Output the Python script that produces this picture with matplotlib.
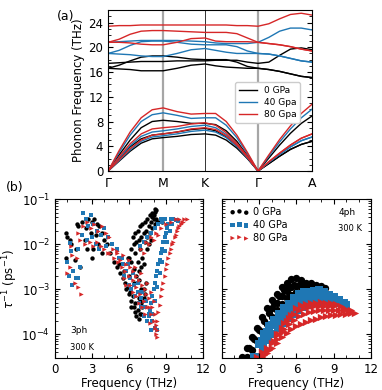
import numpy as np
import matplotlib
matplotlib.use("Agg")
import matplotlib.pyplot as plt
from matplotlib.ticker import MultipleLocator, LogLocator, NullFormatter

# ---------------- (a) phonon dispersion ----------------
kticks = [0.0, 0.27, 0.475, 0.735, 1.0]
klabels = ["Γ", "M", "K", "Γ", "A"]
# sampled path positions (Γ-M, M-K, K-Γ, Γ-A)
kpath = [0.0, 0.054, 0.108, 0.162, 0.216, 0.27,
         0.338, 0.407, 0.475,
         0.527, 0.579, 0.631, 0.683, 0.735,
         0.788, 0.841, 0.894, 0.947, 1.0]

bands_0 = [
    [0, 2.6, 5.0, 7.0, 8.0, 8.2, 8.0, 7.7, 7.7, 7.5, 6.5, 4.8, 2.5, 0, 2.1, 4.2, 6.1, 7.7, 8.9],
    [0, 2.0, 3.9, 5.2, 5.8, 6.0, 6.3, 6.7, 6.9, 6.5, 5.5, 4.0, 2.1, 0, 1.2, 2.4, 3.5, 4.3, 4.8],
    [0, 1.6, 3.2, 4.5, 5.2, 5.4, 5.6, 5.9, 6.0, 5.8, 5.0, 3.7, 2.0, 0, 1.2, 2.4, 3.5, 4.3, 4.8],
    [17.4, 17.5, 17.6, 17.7, 17.7, 17.7, 17.8, 17.8, 17.8, 17.9, 17.9, 17.9, 17.6, 17.4, 17.6, 18.7, 19.7, 19.9, 19.6],
    [16.6, 17.1, 17.8, 18.4, 18.6, 18.6, 18.4, 18.1, 18.0, 18.0, 18.0, 17.6, 16.9, 16.6, 16.4, 16.1, 15.7, 15.3, 15.1],
    [16.6, 16.5, 16.4, 16.2, 16.2, 16.2, 16.6, 17.1, 17.3, 17.0, 16.8, 16.7, 16.6, 16.6, 16.4, 16.1, 15.7, 15.3, 15.1],
]
bands_40 = [
    [0, 3.0, 5.8, 8.0, 9.1, 9.4, 9.0, 8.5, 8.6, 8.6, 7.4, 5.4, 2.8, 0, 2.4, 4.7, 6.8, 8.6, 10.0],
    [0, 2.1, 4.1, 5.6, 6.3, 6.5, 6.8, 7.2, 7.4, 7.0, 5.9, 4.3, 2.3, 0, 1.4, 2.7, 3.9, 4.9, 5.5],
    [0, 1.7, 3.4, 4.8, 5.5, 5.7, 6.0, 6.4, 6.6, 6.3, 5.4, 4.0, 2.1, 0, 1.4, 2.7, 3.9, 4.9, 5.5],
    [20.8, 20.9, 21.0, 21.1, 21.1, 21.1, 21.1, 21.0, 20.9, 20.7, 20.6, 20.6, 20.6, 20.8, 21.6, 22.6, 23.1, 23.1, 22.8],
    [19.0, 19.5, 20.3, 20.9, 21.0, 21.0, 20.8, 20.5, 20.4, 20.4, 20.4, 20.1, 19.4, 19.0, 18.9, 18.6, 18.2, 17.8, 17.6],
    [19.0, 18.9, 18.8, 18.6, 18.5, 18.5, 19.0, 19.6, 19.8, 19.5, 19.2, 19.0, 19.0, 19.0, 18.9, 18.6, 18.2, 17.8, 17.6],
]
bands_80 = [
    [0, 3.3, 6.3, 8.6, 9.9, 10.2, 9.6, 9.2, 9.3, 9.3, 8.0, 5.8, 3.0, 0, 2.6, 5.1, 7.3, 9.3, 10.8],
    [0, 2.3, 4.4, 6.0, 6.8, 7.0, 7.2, 7.6, 7.8, 7.4, 6.2, 4.5, 2.4, 0, 1.5, 2.9, 4.2, 5.3, 6.0],
    [0, 1.8, 3.6, 5.0, 5.8, 6.0, 6.3, 6.8, 7.0, 6.7, 5.7, 4.2, 2.2, 0, 1.5, 2.9, 4.2, 5.3, 6.0],
    [23.4, 23.5, 23.5, 23.6, 23.6, 23.6, 23.6, 23.6, 23.6, 23.6, 23.6, 23.5, 23.5, 23.4, 23.8, 24.6, 25.3, 25.5, 25.2],
    [20.8, 21.3, 22.1, 22.6, 22.7, 22.7, 22.6, 22.5, 22.4, 22.4, 22.4, 22.2, 21.5, 20.8, 20.6, 20.4, 20.1, 19.7, 19.4],
    [20.8, 20.8, 20.7, 20.5, 20.4, 20.4, 20.8, 21.4, 21.5, 21.0, 20.9, 20.9, 20.9, 20.8, 20.6, 20.4, 20.1, 19.7, 19.4],
]

# ---------------- (b) scattering rates (freq THz, log10 rate ps^-1) ----------------
ph3_0 = [(0.9, -1.75), (1.0, -1.85), (1.2, -1.9), (1.3, -2.0), (0.9, -2.3), (1.6, -2.35), (1.9, -1.6),
         (2.2, -1.5), (2.5, -1.65), (2.7, -1.45), (3.0, -1.5), (3.2, -1.45), (3.4, -1.55), (3.6, -1.6),
         (2.4, -1.9), (2.9, -1.75), (3.3, -1.8), (3.8, -1.75), (4.0, -1.9), (2.6, -2.1), (3.1, -2.1),
         (3.5, -2.0), (4.2, -2.0), (1.8, -1.55), (2.0, -2.5), (1.7, -2.1), (3.0, -2.3), (3.8, -2.2),
         (4.5, -2.2), (4.8, -2.4), (5.0, -2.5), (5.3, -2.65), (5.5, -2.75), (5.7, -2.85), (5.9, -2.95),
         (6.1, -3.05), (6.3, -3.15), (6.5, -3.3), (6.7, -3.45), (6.9, -3.55), (6.6, -3.6), (6.4, -3.4),
         (6.2, -3.25), (6.0, -3.1), (5.8, -3.0), (7.1, -3.4), (7.2, -3.2), (7.0, -3.0), (6.8, -2.8),
         (7.3, -3.1), (5.6, -2.6), (6.0, -2.7), (6.4, -2.85), (6.8, -3.2), (7.0, -3.3), (5.2, -2.45),
         (6.2, -3.4), (6.5, -3.5), (6.8, -3.65), (7.0, -3.55), (6.9, -3.25), (7.2, -3.0), (7.4, -2.85),
         (6.0, -2.3), (6.2, -2.4), (6.4, -2.55), (6.6, -2.7), (6.8, -2.6), (7.0, -2.5), (7.2, -2.45),
         (6.2, -2.1), (6.4, -2.0), (6.6, -1.95), (6.8, -1.9), (7.0, -1.85), (7.2, -1.75), (7.4, -1.7),
         (7.6, -1.6), (7.8, -1.5), (7.9, -1.4), (8.0, -1.35), (8.1, -1.28), (8.2, -1.25), (7.5, -1.85),
         (7.7, -1.75), (7.9, -1.65), (8.1, -1.55), (8.3, -1.5), (8.5, -1.48), (8.7, -1.5), (6.5, -2.2),
         (6.9, -2.1), (7.3, -1.95), (6.7, -2.4), (7.1, -2.3), (7.5, -2.1), (8.0, -1.45), (5.9, -2.3),
         (6.3, -1.85), (6.5, -1.75), (6.7, -1.7), (6.9, -1.6), (7.1, -1.55), (7.3, -1.5), (7.5, -1.45),
         (7.7, -1.35), (7.9, -1.3), (8.1, -1.22), (7.6, -2.0), (7.8, -1.9), (8.2, -1.45)]
ph3_40 = [(1.0, -2.4), (1.1, -2.7), (1.3, -2.15), (1.5, -2.6), (1.7, -2.75), (1.9, -2.1), (2.0, -2.5),
          (2.3, -1.3), (2.5, -1.45), (2.7, -1.6), (2.9, -1.35), (3.1, -1.55), (3.4, -1.7), (3.7, -1.8),
          (4.0, -1.65), (4.3, -1.85), (2.2, -1.8), (2.6, -1.9), (3.0, -1.85), (3.3, -2.0), (3.6, -2.1),
          (4.1, -2.05), (4.6, -2.0), (5.0, -2.1), (1.4, -2.9), (1.2, -1.97), (1.9, -2.75),
          (5.2, -2.3), (5.5, -2.45), (5.8, -2.6), (6.1, -2.75), (6.4, -2.9), (6.7, -3.05), (7.0, -3.2),
          (7.3, -3.4), (7.6, -3.55), (7.9, -3.7), (8.1, -3.85), (8.3, -3.9), (6.0, -2.9), (6.5, -3.15),
          (7.0, -3.4), (7.5, -3.7), (7.8, -3.9), (5.6, -2.7), (6.2, -3.0), (6.8, -3.3), (7.2, -3.6),
          (5.4, -2.3), (5.9, -2.45), (6.3, -2.65), (6.7, -2.85), (7.1, -3.05), (7.4, -3.25),
          (7.6, -3.6), (7.8, -3.3), (8.0, -3.0), (8.2, -2.7), (8.4, -2.45), (8.6, -2.2), (8.8, -1.95),
          (9.0, -1.75), (9.2, -1.55), (9.4, -1.45), (7.7, -3.45), (7.9, -3.15), (8.1, -2.85),
          (8.3, -2.6), (8.5, -2.35), (8.7, -2.1), (8.9, -1.85), (9.1, -1.65),
          (7.9, -3.55), (8.1, -3.25), (8.3, -2.95), (8.5, -2.65), (8.7, -2.4), (8.9, -2.15),
          (9.1, -1.95), (9.3, -1.7), (9.5, -1.55),
          (8.6, -1.45), (8.9, -1.45), (9.6, -1.45), (9.8, -1.46), (10.0, -1.48),
          (6.9, -2.05), (7.2, -1.95), (7.5, -1.85), (7.8, -1.75), (8.1, -1.65), (8.4, -1.55), (8.7, -1.5)]
ph3_80 = [(1.0, -2.65), (1.2, -2.5), (1.4, -2.25), (1.6, -2.85), (1.9, -2.95), (2.1, -3.1), (1.8, -2.3),
          (2.0, -1.9), (2.3, -1.6), (2.6, -1.5), (2.9, -1.65), (3.2, -1.55), (3.5, -1.7), (3.8, -1.6),
          (4.1, -1.75), (4.4, -1.85), (2.4, -2.0), (2.8, -1.95), (3.1, -2.05), (3.4, -1.95), (3.7, -2.05),
          (4.0, -2.1), (4.3, -2.2), (4.7, -2.1), (5.0, -2.2), (1.3, -2.05), (1.9, -1.75),
          (4.5, -2.2), (4.8, -2.3), (5.1, -2.4), (5.4, -2.5), (5.7, -2.6), (6.0, -2.7), (6.3, -2.8),
          (6.6, -2.95), (6.9, -3.1), (7.2, -3.25), (7.5, -3.4), (7.8, -3.55), (8.0, -3.7), (8.1, -3.85),
          (8.2, -4.0), (5.0, -2.15), (5.5, -2.25), (6.0, -2.35), (6.5, -2.5), (7.0, -2.65), (7.5, -2.85),
          (7.8, -3.05), (8.0, -3.25), (5.8, -2.9), (6.3, -3.05), (6.8, -3.3), (7.3, -3.55), (7.7, -3.75),
          (5.3, -2.35), (5.8, -2.45), (6.3, -2.6), (6.8, -2.8), (7.3, -3.0), (7.6, -3.2),
          (6.1, -2.5), (6.6, -2.7), (7.1, -2.9), (7.4, -3.1), (5.6, -2.75), (6.1, -2.9), (6.6, -3.15),
          (7.1, -3.4), (7.6, -3.4), (7.9, -3.4), (8.1, -3.55),
          (8.3, -3.7), (8.5, -3.35), (8.7, -3.0), (8.9, -2.7), (9.1, -2.45), (9.3, -2.2), (9.5, -2.0),
          (9.7, -1.85), (9.9, -1.7), (10.1, -1.6), (10.3, -1.5), (10.5, -1.45), (10.7, -1.45),
          (8.4, -3.5), (8.6, -3.15), (8.8, -2.85), (9.0, -2.55), (9.2, -2.3), (9.4, -2.1),
          (9.6, -1.95), (9.8, -1.8), (10.0, -1.65), (10.2, -1.55), (10.4, -1.5),
          (8.3, -3.9), (8.3, -4.05), (8.2, -3.8),
          (7.0, -2.1), (7.4, -1.95), (7.8, -1.85), (8.2, -1.75), (8.6, -1.65), (9.0, -1.55),
          (9.4, -1.5), (9.8, -1.45), (10.1, -1.45), (7.2, -2.2), (7.6, -2.0), (8.0, -1.9), (8.4, -1.8)]

ph4_0 = [(1.6, -4.5), (2.0, -4.3), (2.4, -4.05), (2.8, -3.85), (3.2, -3.62), (3.6, -3.42), (4.0, -3.24),
         (4.4, -3.1), (4.8, -2.95), (5.2, -2.85), (5.6, -2.78), (6.0, -2.75), (6.4, -2.8), (6.8, -2.85),
         (7.2, -2.86), (7.6, -2.9), (8.0, -2.93), (8.3, -2.97),
         (2.0, -4.5), (2.4, -4.35), (2.8, -4.15), (3.2, -3.95), (3.6, -3.78), (4.0, -3.62), (4.4, -3.47),
         (4.8, -3.33), (5.2, -3.2), (5.6, -3.12), (6.0, -3.06), (6.4, -3.05), (6.8, -3.05), (7.2, -3.02),
         (7.6, -3.0), (8.0, -3.0),
         (4.2, -3.3), (4.6, -3.14), (5.0, -3.02), (5.4, -2.95), (5.8, -2.9), (6.2, -2.9), (6.6, -2.93),
         (7.0, -2.94), (7.4, -2.95), (7.8, -2.96), (2.2, -4.3), (2.6, -4.1), (3.0, -3.9), (3.4, -3.7),
         (3.8, -3.52), (4.0, -3.42), (4.4, -3.3), (4.8, -3.15), (5.2, -3.04), (5.6, -2.96),
         (6.0, -2.92), (6.4, -2.96), (6.8, -2.98)]
ph4_40 = [(2.6, -4.5), (3.0, -4.22), (3.4, -4.0), (3.8, -3.82), (4.2, -3.68), (4.6, -3.55), (5.0, -3.42),
          (5.4, -3.32), (5.8, -3.2), (6.2, -3.1), (6.6, -3.06), (7.0, -3.05), (7.4, -3.03), (7.8, -3.02),
          (8.2, -3.06), (8.6, -3.12), (9.0, -3.18), (9.4, -3.24), (9.8, -3.3), (10.0, -3.34),
          (2.9, -4.5), (3.3, -4.3), (3.7, -4.12), (4.1, -3.98), (4.5, -3.86), (4.9, -3.74), (5.3, -3.64),
          (5.7, -3.55), (6.1, -3.47), (6.5, -3.4), (6.9, -3.35), (7.3, -3.31), (7.7, -3.28), (8.1, -3.27),
          (8.5, -3.27), (8.9, -3.28), (9.3, -3.3), (9.7, -3.32),
          (4.4, -3.72), (4.8, -3.6), (5.2, -3.5), (5.6, -3.4), (6.0, -3.3), (6.4, -3.24), (6.8, -3.2),
          (7.2, -3.17), (7.6, -3.15), (8.0, -3.15), (8.4, -3.18), (8.8, -3.22), (9.2, -3.26),
          (3.2, -4.15), (3.6, -3.95), (4.0, -3.8)]
ph4_80 = [(2.8, -4.5), (3.2, -4.4), (3.6, -4.3), (4.0, -4.18), (4.4, -4.0), (4.8, -3.85), (5.2, -3.7),
          (5.6, -3.56), (6.0, -3.42), (6.4, -3.35), (6.8, -3.32), (7.2, -3.3), (7.6, -3.3), (8.0, -3.28),
          (8.4, -3.3), (8.8, -3.3), (9.2, -3.33), (9.6, -3.38), (10.0, -3.43), (10.4, -3.47), (10.7, -3.52),
          (3.2, -4.5), (3.6, -4.42), (4.0, -4.3), (4.4, -4.18), (4.8, -4.06), (5.2, -3.96), (5.6, -3.88),
          (6.0, -3.82), (6.4, -3.76), (6.8, -3.72), (7.2, -3.68), (7.6, -3.65), (8.0, -3.62), (8.4, -3.6),
          (8.8, -3.58), (9.2, -3.56), (9.6, -3.55), (10.0, -3.54), (10.4, -3.53),
          (4.6, -4.0), (5.0, -3.88), (5.4, -3.78), (5.8, -3.68), (6.2, -3.6), (6.6, -3.54), (7.0, -3.5),
          (7.4, -3.48), (7.8, -3.46), (8.2, -3.45), (8.6, -3.45), (9.0, -3.45), (9.4, -3.46), (9.8, -3.47),
          (10.2, -3.5), (5.0, -3.75), (5.4, -3.64), (5.8, -3.55), (6.2, -3.47), (6.6, -3.42), (7.0, -3.4),
          (7.4, -3.38), (7.8, -3.37), (8.2, -3.36), (8.6, -3.37), (9.0, -3.38), (3.4, -4.45),
          (3.8, -4.35), (4.2, -4.15), (4.4, -4.1), (4.8, -3.95)]

labels = ["0 GPa", "40 GPa", "80 GPa"]
colors = ["black", "#1f77b4", "#d62728"]
markers = ["o", "s", ">"]

plt.rcParams["font.size"] = 8.5
plt.rcParams["axes.linewidth"] = 0.8

fig = plt.figure(figsize=(3.82, 3.9), dpi=100)

# ---- top panel ----
ax = fig.add_axes([0.283, 0.5615, 0.534, 0.4125])
leg_names = ["0 GPa", "40 Gpa", "80 Gpa"]
for bands, c, name in zip([bands_0, bands_40, bands_80], colors, leg_names):
    for i, b in enumerate(bands):
        ax.plot(kpath, b, color=c, lw=1.0, label=name if i == 0 else None)
for xv in kticks[1:4]:
    if xv == kticks[2]:
        ax.axvline(xv, color="0.2", lw=0.7, zorder=0)
    else:
        ax.axvline(xv, color="0.65", lw=1.6, zorder=0)
ax.set_xlim(0, 1)
ax.set_ylim(0, 26)
ax.set_xticks(kticks)
ax.set_xticklabels(klabels, fontsize=9)
ax.yaxis.set_major_locator(MultipleLocator(4))
ax.yaxis.set_minor_locator(MultipleLocator(1))
ax.tick_params(axis="y", which="both", direction="in", right=True)
ax.tick_params(axis="x", direction="in", length=0, pad=4)
ax.set_ylabel("Phonon Frequency (THz)", fontsize=8.5, labelpad=2)
ax.legend(loc="upper left", bbox_to_anchor=(0.6, 0.58), fontsize=6.5,
          handlelength=2.0, borderpad=0.4, labelspacing=0.35, framealpha=1.0)

fig.text(0.148, 0.975, "(a)", fontsize=9, va="top")
fig.text(0.015, 0.535, "(b)", fontsize=9, va="top")

# ---- bottom panels ----
axl = fig.add_axes([0.144, 0.082, 0.387, 0.4077])
axr = fig.add_axes([0.581, 0.082, 0.390, 0.4077], sharey=axl)

for data, c, m in zip([ph3_0, ph3_40, ph3_80], colors, markers):
    f = np.array([p[0] for p in data])
    r = 10.0 ** np.array([p[1] for p in data])
    axl.scatter(f, r, s=10, color=c, marker=m, linewidths=0)
for data, c, m, lab in zip([ph4_0, ph4_40, ph4_80], colors, markers, labels):
    f = np.array([p[0] for p in data])
    r = 10.0 ** np.array([p[1] for p in data])
    axr.scatter(f, r, s=28, color=c, marker=m, linewidths=0, label=lab)

for a in (axl, axr):
    a.set_yscale("log")
    a.set_xlim(0, 12)
    a.set_ylim(3e-5, 1e-1)
    a.set_xticks([0, 3, 6, 9, 12])
    a.xaxis.set_minor_locator(MultipleLocator(1))
    a.yaxis.set_major_locator(LogLocator(base=10, numticks=10))
    a.yaxis.set_minor_locator(LogLocator(base=10, subs=np.arange(2, 10), numticks=10))
    a.yaxis.set_minor_formatter(NullFormatter())
    a.tick_params(which="both", direction="in", top=True, right=True)
    a.tick_params(which="minor", length=2)
    a.set_xlabel("Frequency (THz)", fontsize=8.5, labelpad=1)
axl.set_ylabel(r"$\tau^{-1}$ (ps$^{-1}$)", fontsize=8.5, labelpad=1)
axr.tick_params(labelleft=False)

axl.text(0.1, 0.16, "3ph", transform=axl.transAxes, fontsize=6.5)
axl.text(0.1, 0.05, "300 K", transform=axl.transAxes, fontsize=6)
axr.text(0.78, 0.9, "4ph", transform=axr.transAxes, fontsize=6.5)
axr.text(0.78, 0.8, "300 K", transform=axr.transAxes, fontsize=6)
axr.legend(loc="upper left", frameon=False, fontsize=7, scatterpoints=3,
           markerscale=0.6, handletextpad=0.4, labelspacing=0.3,
           borderaxespad=0.4)

fig.savefig("out.png", dpi=100)
